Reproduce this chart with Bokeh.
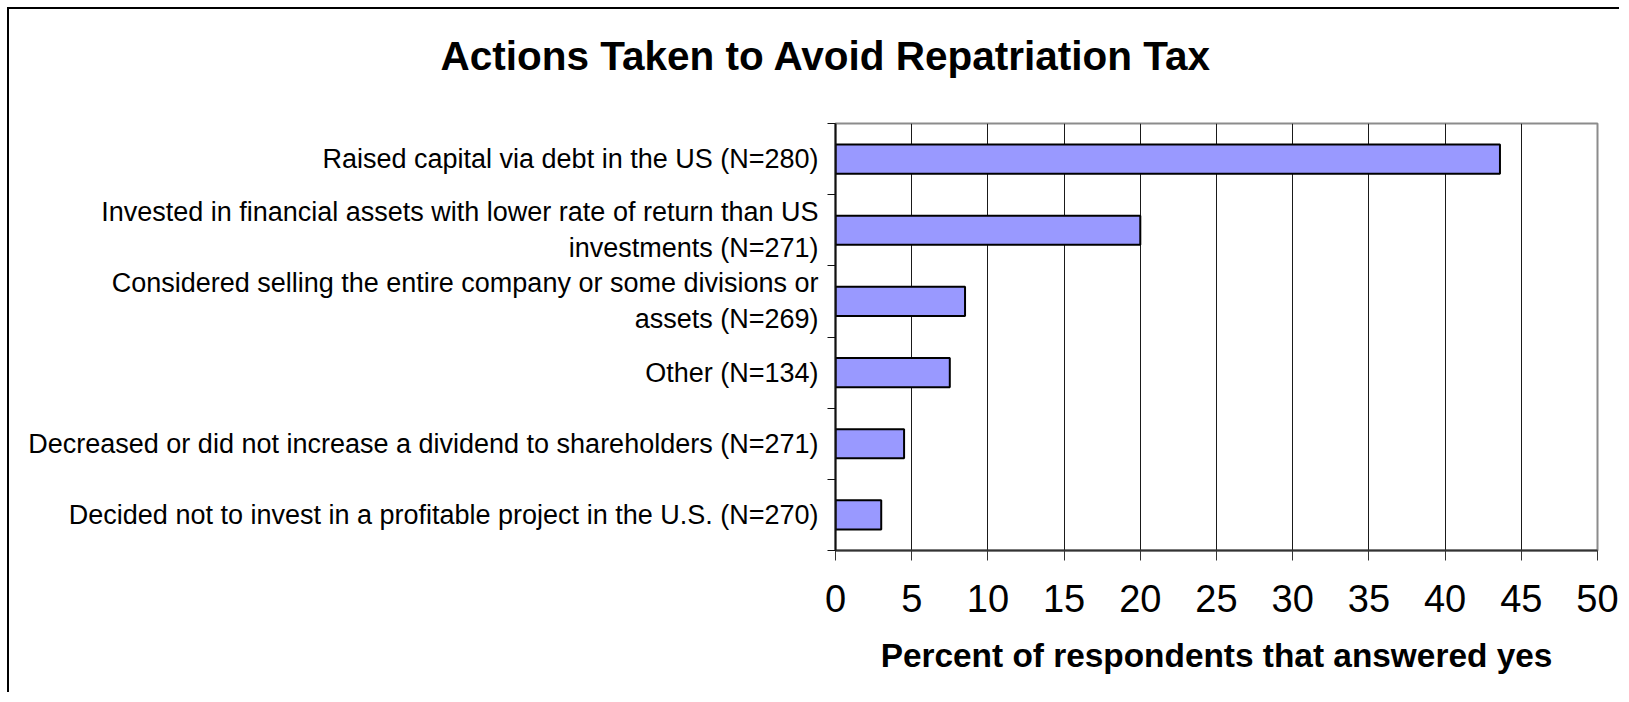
from bokeh.plotting import figure
from bokeh.models import (Range1d, LinearAxis, FixedTicker,
                          CustomJSTickFormatter, Title, ColumnDataSource)
from bokeh.embed import file_html
from bokeh.resources import INLINE

# ---- data ----
title_text = "Actions Taken to Avoid Repatriation Tax"
x_title = "Percent of respondents that answered yes"
categories = [
    "Raised capital via debt in the US (N=280)",
    "Invested in financial assets with lower rate of return than US\ninvestments (N=271)",
    "Considered selling the entire company or some divisions or\nassets (N=269)",
    "Other (N=134)",
    "Decreased or did not increase a dividend to shareholders (N=271)",
    "Decided not to invest in a profitable project in the U.S. (N=270)",
]
values = [43.6, 20.0, 8.5, 7.5, 4.5, 3.0]
x_ticks = [0, 5, 10, 15, 20, 25, 30, 35, 40, 45, 50]

FONT = "Liberation Sans"
n = len(categories)
# first category at top: slot centres counted from the bottom
centres = [n - 1 - i + 0.5 for i in range(n)]

src = ColumnDataSource(dict(y=centres, val=values))

p = figure(width=1612, height=685,
           y_range=Range1d(0, n),
           x_range=Range1d(x_ticks[0], x_ticks[-1]),
           output_backend="svg", toolbar_location=None,
           y_axis_location=None,
           min_border_left=826, min_border_right=24,
           min_border_top=114, min_border_bottom=144)
p.background_fill_color = "white"
p.border_fill_color = "white"
p.outline_line_color = "#8c8c8c"
p.outline_line_width = 2
p.styles = {"margin-left": "7px", "margin-top": "7px",
            "border-left": "2px solid #000", "border-top": "2px solid #000"}

# bars
p.hbar(y="y", right="val", left=0, height=0.41, source=src,
       fill_color="#9999FF", line_color="#000000", line_width=2)

# x axis
xt = FixedTicker(ticks=x_ticks)
xa = p.xaxis[0]
xa.ticker = xt
xa.axis_line_color = "#333333"
xa.axis_line_width = 2
xa.major_tick_out = 10
xa.major_tick_in = 0
xa.major_tick_line_color = "#333333"
xa.minor_tick_line_color = None
xa.major_label_text_font = FONT
xa.major_label_text_font_size = "38px"
xa.major_label_text_color = "#000000"
xa.major_label_standoff = 24
xa.axis_label = x_title
xa.axis_label_text_font = FONT
xa.axis_label_text_font_style = "bold"
xa.axis_label_text_font_size = "33.4px"
xa.axis_label_text_color = "#000000"
xa.axis_label_standoff = 22

p.xgrid.ticker = xt
p.xgrid.grid_line_color = "#1a1a1a"
p.xgrid.grid_line_width = 1
p.ygrid.visible = False

# y axis: ticks at category boundaries (inner) + category labels (outer)
bnd_axis = LinearAxis(ticker=FixedTicker(ticks=list(range(n + 1))),
                      formatter=CustomJSTickFormatter(code="return ''"),
                      major_tick_out=8, major_tick_in=0,
                      minor_tick_out=0, minor_tick_in=0,
                      major_label_standoff=0,
                      axis_line_color="#111111", axis_line_width=2,
                      major_tick_line_color="#111111", major_tick_line_width=1)
p.add_layout(bnd_axis, "left")

cat_axis = LinearAxis(ticker=FixedTicker(ticks=centres),
                      major_label_overrides={c: lab for c, lab in zip(centres, categories)},
                      major_tick_out=0, major_tick_in=0,
                      minor_tick_out=0, minor_tick_in=0,
                      major_tick_line_color=None, minor_tick_line_color=None,
                      axis_line_color=None,
                      major_label_standoff=9,
                      major_label_text_font=FONT,
                      major_label_text_font_size="27px",
                      major_label_text_color="#000000")
p.add_layout(cat_axis, "left")

# spacer between frame and title (keeps the title high above the frame)
p.add_layout(Title(text=" ", standoff=37, text_font_size="1px",
                   text_color="white"), "above")
# title
p.add_layout(Title(text=title_text, align="left", offset=-395, standoff=10,
                   text_font=FONT, text_font_style="bold", text_font_size="40.5px",
                   text_color="#000000"), "above")

open("out.html", "w").write(file_html(p, INLINE))
